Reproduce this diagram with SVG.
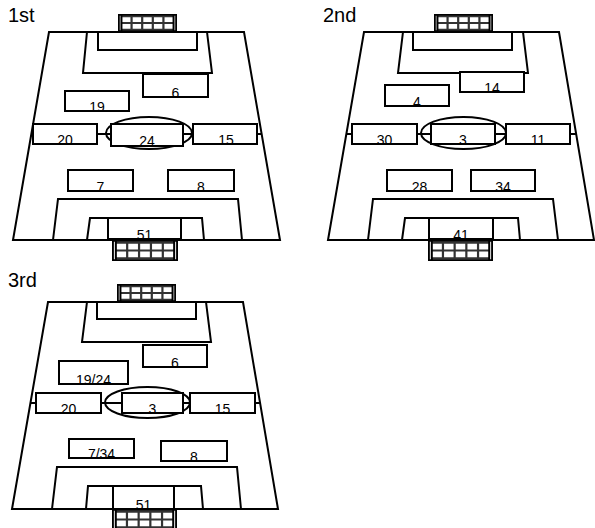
<svg xmlns="http://www.w3.org/2000/svg" xmlns:xlink="http://www.w3.org/1999/xlink" width="595" height="528" viewBox="0 0 595 528">
<style>
.ln{fill:none;stroke:#000;stroke-width:2;stroke-linejoin:miter}
.pitch{fill:#fff;stroke:#000;stroke-width:2}
.box{fill:#fff;stroke:#000;stroke-width:2}
.t{font-family:"Liberation Sans",Arial,sans-serif;font-size:14px;fill:#000;text-anchor:middle}
.h{font-family:"Liberation Sans",Arial,sans-serif;font-size:20px;fill:#000}
.gl{stroke:#000;stroke-width:2;fill:none;vector-effect:non-scaling-stroke}
.gg{stroke:#333;stroke-width:2.2;fill:none;vector-effect:non-scaling-stroke}
</style>
<defs>
<symbol id="goal" viewBox="0 0 60 20" preserveAspectRatio="none">
<rect x="0" y="0" width="60" height="20" fill="#fff" stroke="none"/>
<path class="gg" d="M13.8,2V18M24.6,2V18M35.4,2V18M46.2,2V18M3,10H57M3,2.5H57M3,17.5H57"/>
<path class="gl" d="M0.8,0.8H59.2V19.2H0.8ZM3.5,0.8V19.2M56.5,0.8V19.2"/>
</symbol>
</defs>
<rect width="595" height="528" fill="#fff"/>
<text class="h" x="8" y="22">1st</text>
<text class="h" x="323" y="22">2nd</text>
<text class="h" x="8" y="287">3rd</text>

<g id="field1">
<use xlink:href="#goal" href="#goal" x="118" y="14" width="59" height="18"/>
<use xlink:href="#goal" href="#goal" x="112" y="240" width="66" height="21"/>
<path class="pitch" d="M49,32L244,32L280,240L13,240Z"/>
<path class="ln" d="M87,32L207,32L212,73L83,73Z"/>
<path class="ln" d="M98,32L197,32L197,50L98,50Z"/>
<path class="ln" d="M53,240L58,199L238,199L242,240"/>
<path class="ln" d="M87,240L90,218L202,218L204,240"/>
<g id="connectors1">
<path class="ln" d="M31,134H262"/>
<ellipse class="ln" cx="149" cy="133" rx="43" ry="16"/>
</g>
<g id="n1-6"><rect class="box" x="143" y="74" width="65" height="23"/><text class="t" x="175.5" y="97.5">6</text></g>
<g id="n1-19"><rect class="box" x="65" y="91" width="64" height="20"/><text class="t" x="97" y="111.5">19</text></g>
<g id="n1-20"><rect class="box" x="33" y="124" width="64" height="20"/><text class="t" x="65" y="144.5">20</text></g>
<g id="n1-24"><rect class="box" x="111" y="124" width="72" height="22"/><text class="t" x="147" y="145.5">24</text></g>
<g id="n1-15"><rect class="box" x="193" y="124" width="64" height="20"/><text class="t" x="226" y="144.5">15</text></g>
<g id="n1-7"><rect class="box" x="68" y="170" width="65" height="21"/><text class="t" x="100.5" y="191.5">7</text></g>
<g id="n1-8"><rect class="box" x="168" y="170" width="66" height="21"/><text class="t" x="201" y="191.5">8</text></g>
<g id="n1-51"><rect class="box" x="108" y="218" width="73" height="21"/><text class="t" x="144.5" y="239.5">51</text></g>
</g>

<g id="field2">
<use xlink:href="#goal" href="#goal" x="434" y="14" width="59" height="18"/>
<use xlink:href="#goal" href="#goal" x="428" y="240" width="65" height="21"/>
<path class="pitch" d="M364,32L559,32L594,240L328,240Z"/>
<path class="ln" d="M403,32L523,32L528,73L398,73Z"/>
<path class="ln" d="M413,32L512,32L512,50L413,50Z"/>
<path class="ln" d="M368,240L373,199L553,199L558,240"/>
<path class="ln" d="M402,240L405,218L518,218L520,240"/>
<g id="connectors2">
<path class="ln" d="M346,134H577"/>
<ellipse class="ln" cx="463.5" cy="133" rx="42.5" ry="16"/>
</g>
<g id="n2-14"><rect class="box" x="460" y="72" width="64" height="20"/><text class="t" x="492" y="92.5">14</text></g>
<g id="n2-4"><rect class="box" x="385" y="85" width="64" height="21"/><text class="t" x="417" y="106.5">4</text></g>
<g id="n2-30"><rect class="box" x="352" y="124" width="65" height="20"/><text class="t" x="384.5" y="144.5">30</text></g>
<g id="n2-3"><rect class="box" x="431" y="124" width="64" height="20"/><text class="t" x="463" y="144.5">3</text></g>
<g id="n2-11"><rect class="box" x="506" y="124" width="64" height="20"/><text class="t" x="538" y="144.5">11</text></g>
<g id="n2-28"><rect class="box" x="387" y="170" width="65" height="21"/><text class="t" x="419.5" y="191.5">28</text></g>
<g id="n2-34"><rect class="box" x="471" y="170" width="64" height="21"/><text class="t" x="503" y="191.5">34</text></g>
<g id="n2-41"><rect class="box" x="429" y="218" width="64" height="21"/><text class="t" x="461" y="239.5">41</text></g>
</g>

<g id="field3">
<use xlink:href="#goal" href="#goal" x="117" y="284" width="59" height="18"/>
<use xlink:href="#goal" href="#goal" x="112" y="509" width="65" height="21"/>
<path class="pitch" d="M48,302L243,302L278,509L12,509Z"/>
<path class="ln" d="M87,302L206,302L211,342L82,342Z"/>
<path class="ln" d="M97,302L196,302L196,319L97,319Z"/>
<path class="ln" d="M52,509L57,467L237,467L241,509"/>
<path class="ln" d="M86,509L88,486L201,486L203,509"/>
<g id="connectors3">
<path class="ln" d="M30,403H261"/>
<ellipse class="ln" cx="147.5" cy="402.5" rx="42.5" ry="15.5"/>
</g>
<g id="n3-6"><rect class="box" x="143" y="345" width="64" height="22"/><text class="t" x="175" y="367.5">6</text></g>
<g id="n3-1924"><rect class="box" x="59" y="361" width="69" height="23"/><text class="t" x="93.5" y="384.5">19/24</text></g>
<g id="n3-20"><rect class="box" x="36" y="393" width="65" height="20"/><text class="t" x="68.5" y="413.5">20</text></g>
<g id="n3-3"><rect class="box" x="122" y="393" width="61" height="20"/><text class="t" x="152.5" y="413.5">3</text></g>
<g id="n3-15"><rect class="box" x="190" y="393" width="65" height="20"/><text class="t" x="222.5" y="413.5">15</text></g>
<g id="n3-734"><rect class="box" x="69" y="439" width="65" height="19"/><text class="t" x="101.5" y="458.5">7/34</text></g>
<g id="n3-8"><rect class="box" x="161" y="441" width="66" height="20"/><text class="t" x="194" y="461.5">8</text></g>
<g id="n3-51"><rect class="box" x="113" y="486" width="61" height="23"/><text class="t" x="143.5" y="509.5">51</text></g>
</g>
</svg>
